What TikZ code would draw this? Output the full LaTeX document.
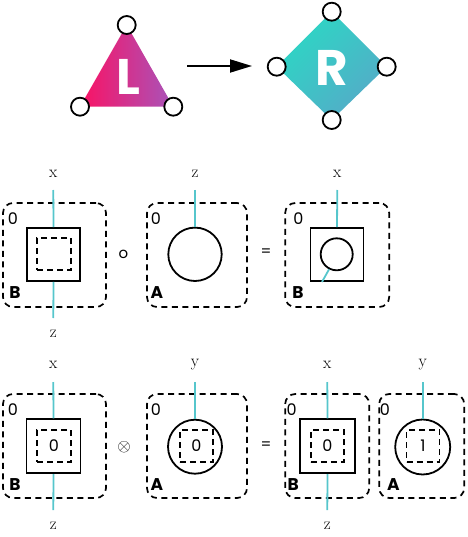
\documentclass[tikz,border=0pt]{standalone}
\usepackage{fontspec}
\setsansfont{Poppins}
\usetikzlibrary{arrows.meta,shadings}
\definecolor{wirec}{RGB}{86,198,204}
\definecolor{pinkL}{RGB}{250,18,100}
\definecolor{purpL}{RGB}{168,84,186}
\definecolor{tealR}{RGB}{36,224,196}
\definecolor{blueR}{RGB}{94,160,200}
\definecolor{midR}{RGB}{64,194,198}
\begin{document}
\begin{tikzpicture}[x=1pt,y=-1pt,
  vert/.style={circle,draw,fill=white,line width=1.8pt,minimum size=18pt,inner sep=0pt},
  obox/.style={draw,dash pattern=on 6pt off 4.5pt,line width=1.7pt,rounded corners=10pt,inner sep=0pt,minimum height=104pt},
  dbox/.style={draw,dash pattern=on 6pt off 4pt,line width=1.6pt,inner sep=0pt,minimum width=34pt,minimum height=32pt,font=\sffamily\fontsize{16}{16}\selectfont},
  sqbox/.style={draw,line width=1.8pt,inner sep=0pt,minimum size=53pt},
  cbox/.style={draw,circle,line width=1.8pt,inner sep=0pt},
  wire/.style={draw=wirec,line width=1.8pt},
  wlab/.style={font=\fontsize{17}{17}\selectfont,inner sep=0pt},
  zlab/.style={font=\sffamily\fontsize{16}{16}\selectfont,inner sep=0pt},
  nlab/.style={font=\sffamily\bfseries\fontsize{17}{17}\selectfont,inner sep=0pt},
  oplab/.style={font=\sffamily\fontsize{15}{15}\selectfont,inner sep=0pt},
  big/.style={font=\sffamily\bfseries\fontsize{50}{50}\selectfont,text=white,inner sep=0pt}
]
\useasboundingbox (0,0) rectangle (467,537);

% ---------- top: L -> R ----------
\shade[left color=pinkL,right color=purpL] (126.7,25) -- (80,106.7) -- (173.3,106.7) -- cycle;
\node[big] (Ltxt) at (128,77) {L};
\node[vert] (L1) at (126.7,25) {};
\node[vert] (L2) at (80,106.7) {};
\node[vert] (L3) at (173.3,106.7) {};

\shade[upper left=tealR,lower right=blueR,upper right=midR,lower left=midR]
  (331.7,11.7) -- (386.7,66.7) -- (331.7,120) -- (276.7,66.7) -- cycle;
\node[big] (Rtxt) at (331.7,68) {R};
\node[vert] (R1) at (331.7,11.7) {};
\node[vert] (R2) at (386.7,66.7) {};
\node[vert] (R3) at (331.7,120) {};
\node[vert] (R4) at (276.7,66.7) {};

\coordinate (ar1) at (187,66);
\coordinate (ar2) at (252,66);
\draw[line width=1.8pt,-{Triangle[length=22pt,width=13pt]}] (ar1) -- (ar2);

% ---------- middle row ----------
\node[obox,minimum width=103pt] (b1) at (54.5,255) {};
\node[sqbox] (sq1) at (53.5,254.5) {};
\node[dbox] (ds1) at (54,254) {};
\node[wlab] (x1) at (53.3,174) {x};
\node[wlab] (z1) at (53.3,334) {z};
\coordinate (w1a) at (53.3,190);
\coordinate (w1b) at (53.3,318);
\draw[wire] (w1a) -- (sq1.north);
\draw[wire] (sq1.south) -- (w1b);
\node[zlab] (n1) at (13,219) {0};
\node[nlab] (B1) at (15,293) {B};

\node[oplab] (op1) at (123.3,254) {o};

\node[obox,minimum width=100pt] (b2) at (197,255) {};
\node[cbox,minimum size=53.4pt] (c2) at (195,254.3) {};
\node[wlab] (z2) at (195,174) {z};
\coordinate (w2a) at (195,190);
\draw[wire] (w2a) -- (c2.north);
\node[zlab] (n2) at (156,219) {0};
\node[nlab] (A2) at (157,293) {A};

\node[oplab] (eq1) at (266,253) {=};

\node[obox,minimum width=104pt] (b3) at (337.2,255) {};
\node[sqbox] (sq3) at (337,254.5) {};
\node[cbox,minimum size=32pt] (c3) at (336.7,254.3) {};
\node[wlab] (x3) at (337.3,174) {x};
\coordinate (w3a) at (337.3,190);
\draw[wire] (w3a) -- (sq3.north);
\draw[wire] (c3.243) -- ([xshift=-15pt]sq3.south);
\node[zlab] (n3) at (298.3,219) {0};
\node[nlab] (B3) at (298,293) {B};

% ---------- bottom row ----------
\node[obox,minimum width=103pt] (b4) at (54.5,446) {};
\node[sqbox,minimum size=54pt] (sq4) at (53.5,446.3) {};
\node[dbox] (ds4) at (54,446) {0};
\node[wlab] (x4) at (53.3,365) {x};
\node[wlab] (z4) at (53.3,526) {z};
\coordinate (w4a) at (53.3,382);
\coordinate (w4b) at (53.3,510);
\draw[wire] (w4a) -- (sq4.north);
\draw[wire] (sq4.south) -- (w4b);
\node[zlab] (n4) at (13,410) {0};
\node[nlab] (B4) at (15,485) {B};

\node[font=\fontsize{16}{16}\selectfont,inner sep=0pt] (op2) at (124,446.7) {$\otimes$};

\node[obox,minimum width=100pt] (b5) at (197,446) {};
\node[cbox,minimum size=54pt] (c5) at (195,446.7) {};
\node[dbox,minimum width=33pt] (ds5) at (196.3,446) {0};
\node[wlab] (y5) at (195,365) {y};
\coordinate (w5a) at (195,382);
\draw[wire] (w5a) -- (c5.north);
\node[zlab] (n5) at (156,410) {0};
\node[nlab] (A5) at (157,485) {A};

\node[oplab] (eq2) at (266,446) {=};

\node[obox,minimum width=84pt] (b6) at (327.2,446) {};
\node[sqbox,minimum width=55pt,minimum height=54pt] (sq6) at (327.5,446.3) {};
\node[dbox,minimum width=33pt] (ds6) at (327.3,446) {0};
\node[wlab] (x6) at (327.3,365) {x};
\node[wlab] (z6) at (327.3,526) {z};
\coordinate (w6a) at (327.3,382);
\coordinate (w6b) at (327.3,510);
\draw[wire] (w6a) -- (sq6.north);
\draw[wire] (sq6.south) -- (w6b);
\node[zlab] (n6) at (291.7,410) {0};
\node[nlab] (B6) at (293.3,485) {B};

\node[obox,minimum width=85pt] (b7) at (421.7,446) {};
\node[cbox,minimum size=55pt] (c7) at (422.7,447) {};
\node[dbox,minimum width=33pt] (ds7) at (423,446) {1};
\node[wlab] (y7) at (422.7,365) {y};
\coordinate (w7a) at (422.7,382);
\draw[wire] (w7a) -- (c7.north);
\node[zlab] (n7) at (385,410) {0};
\node[nlab] (A7) at (393.3,485) {A};
\end{tikzpicture}
\end{document}
